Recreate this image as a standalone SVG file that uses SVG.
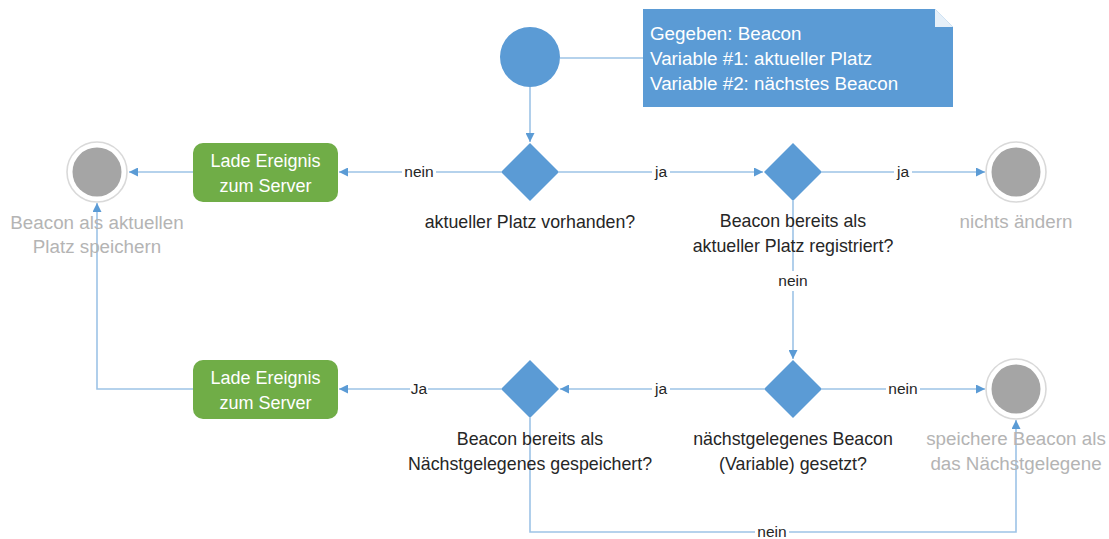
<svg xmlns="http://www.w3.org/2000/svg" width="1109" height="539" viewBox="0 0 1109 539">
  <style>
    .edge { fill: none; stroke: #9dc3e6; stroke-width: 1.6; }
    .dec { fill: #5b9bd5; }
    .act { fill: #70ad47; }
    .act-t { fill: #ffffff; font: 18px "Liberation Sans", Arial, sans-serif; text-anchor: middle; }
    .lbl { fill: #262626; font: 17.8px "Liberation Sans", Arial, sans-serif; text-anchor: middle; }
    .end-t { fill: #b4b4b4; font: 18.8px "Liberation Sans", Arial, sans-serif; text-anchor: middle; }
    .elbl { fill: #262626; font: 15.5px "Liberation Sans", Arial, sans-serif; text-anchor: middle; }
    .lblbg { fill: #ffffff; }
    .ring { fill: #ffffff; stroke: #d9d9d9; stroke-width: 1.6; }
    .core { fill: #a5a5a5; }
    .note-t { fill: #ffffff; font: 18.8px "Liberation Sans", Arial, sans-serif; }
  </style>
  <defs>
    <marker id="arr" viewBox="0 0 10 10" refX="10" refY="5" markerWidth="9" markerHeight="9" markerUnits="userSpaceOnUse" orient="auto">
      <path d="M0,0 L10,5 L0,10 z" fill="#5b9bd5"/>
    </marker>
  </defs>

  <rect width="1109" height="539" fill="#ffffff"/>

  <!-- connectors -->
  <g id="connectors">
    <line class="edge" x1="530" y1="87" x2="530" y2="142" marker-end="url(#arr)"/>
    <line class="edge" x1="560" y1="58" x2="643" y2="58"/>
    <line class="edge" x1="501" y1="172" x2="339" y2="172" marker-end="url(#arr)"/>
    <line class="edge" x1="193" y1="172" x2="129" y2="172" marker-end="url(#arr)"/>
    <line class="edge" x1="559" y1="172" x2="763" y2="172" marker-end="url(#arr)"/>
    <line class="edge" x1="822" y1="172" x2="985" y2="172" marker-end="url(#arr)"/>
    <line class="edge" x1="793" y1="201" x2="793" y2="359" marker-end="url(#arr)"/>
    <line class="edge" x1="764" y1="389" x2="560" y2="389" marker-end="url(#arr)"/>
    <line class="edge" x1="822" y1="389" x2="985" y2="389" marker-end="url(#arr)"/>
    <line class="edge" x1="501" y1="389" x2="339" y2="389" marker-end="url(#arr)"/>
    <polyline class="edge" points="530,418 530,532 1016,532 1016,420" marker-end="url(#arr)"/>
    <polyline class="edge" points="193,389 97,389 97,203" marker-end="url(#arr)"/>

    <!-- branch labels -->
    <rect class="lblbg" x="402" y="162" width="34" height="20"/>
    <text class="elbl" x="419" y="177">nein</text>
    <rect class="lblbg" x="652" y="162" width="18" height="20"/>
    <text class="elbl" x="661" y="177">ja</text>
    <rect class="lblbg" x="894" y="162" width="18" height="20"/>
    <text class="elbl" x="903" y="177">ja</text>
    <rect class="lblbg" x="776" y="271" width="34" height="20"/>
    <text class="elbl" x="793" y="286">nein</text>
    <rect class="lblbg" x="652" y="379" width="18" height="20"/>
    <text class="elbl" x="661" y="394">ja</text>
    <rect class="lblbg" x="886" y="379" width="34" height="20"/>
    <text class="elbl" x="903" y="394">nein</text>
    <rect class="lblbg" x="410" y="379" width="18" height="20"/>
    <text class="elbl" x="419" y="394">Ja</text>
    <rect class="lblbg" x="755" y="522" width="34" height="17"/>
    <text class="elbl" x="772" y="537">nein</text>
  </g>

  <!-- start -->
  <g id="start">
    <circle cx="530" cy="57" r="30" fill="#5b9bd5"/>
  </g>

  <!-- note -->
  <g id="note">
    <path d="M643,9 H935 L953,27 V107 H643 z" fill="#5b9bd5"/>
    <path d="M935,9 L953,27 H935 z" fill="#ffffff" opacity="0.85"/>
    <text class="note-t" x="650" y="40">Gegeben: Beacon</text>
    <text class="note-t" x="650" y="65">Variable #1: aktueller Platz</text>
    <text class="note-t" x="650" y="90">Variable #2: nächstes Beacon</text>
  </g>

  <!-- decision: current place -->
  <g id="d-platz">
    <polygon class="dec" points="530,143 559,172 530,201 501,172"/>
    <text class="lbl" x="530" y="228">aktueller Platz vorhanden?</text>
  </g>

  <!-- decision: already registered -->
  <g id="d-registriert">
    <polygon class="dec" points="793,143 822,172 793,201 764,172"/>
    <text class="lbl" x="793" y="227">Beacon bereits als</text>
    <text class="lbl" x="793" y="252">aktueller Platz registriert?</text>
  </g>

  <!-- end: nothing -->
  <g id="end-nichts">
    <circle class="ring" cx="1016" cy="172" r="30"/>
    <circle class="core" cx="1016" cy="172" r="24.5"/>
    <text class="end-t" x="1016" y="228">nichts ändern</text>
  </g>

  <!-- action top -->
  <g id="a-lade-1">
    <rect class="act" x="193" y="143" width="145" height="59" rx="10"/>
    <text class="act-t" x="265.5" y="167">Lade Ereignis</text>
    <text class="act-t" x="265.5" y="192">zum Server</text>
  </g>

  <!-- end: save current place -->
  <g id="end-platz">
    <circle class="ring" cx="97" cy="172" r="30"/>
    <circle class="core" cx="97" cy="172" r="24.5"/>
    <text class="end-t" x="97" y="229">Beacon als aktuellen</text>
    <text class="end-t" x="97" y="253">Platz speichern</text>
  </g>

  <!-- decision: nearest set -->
  <g id="d-gesetzt">
    <polygon class="dec" points="793,360 822,389 793,418 764,389"/>
    <text class="lbl" x="793" y="445">nächstgelegenes Beacon</text>
    <text class="lbl" x="793" y="470">(Variable) gesetzt?</text>
  </g>

  <!-- decision: already stored as nearest -->
  <g id="d-gespeichert">
    <polygon class="dec" points="530,360 559,389 530,418 501,389"/>
    <text class="lbl" x="530" y="445">Beacon bereits als</text>
    <text class="lbl" x="530" y="470">Nächstgelegenes gespeichert?</text>
  </g>

  <!-- action bottom -->
  <g id="a-lade-2">
    <rect class="act" x="193" y="360" width="145" height="59" rx="10"/>
    <text class="act-t" x="265.5" y="384">Lade Ereignis</text>
    <text class="act-t" x="265.5" y="409">zum Server</text>
  </g>

  <!-- end: store nearest -->
  <g id="end-naechst">
    <circle class="ring" cx="1016" cy="389" r="30"/>
    <circle class="core" cx="1016" cy="389" r="24.5"/>
    <text class="end-t" x="1016" y="445">speichere Beacon als</text>
    <text class="end-t" x="1016" y="470">das Nächstgelegene</text>
  </g>
</svg>
